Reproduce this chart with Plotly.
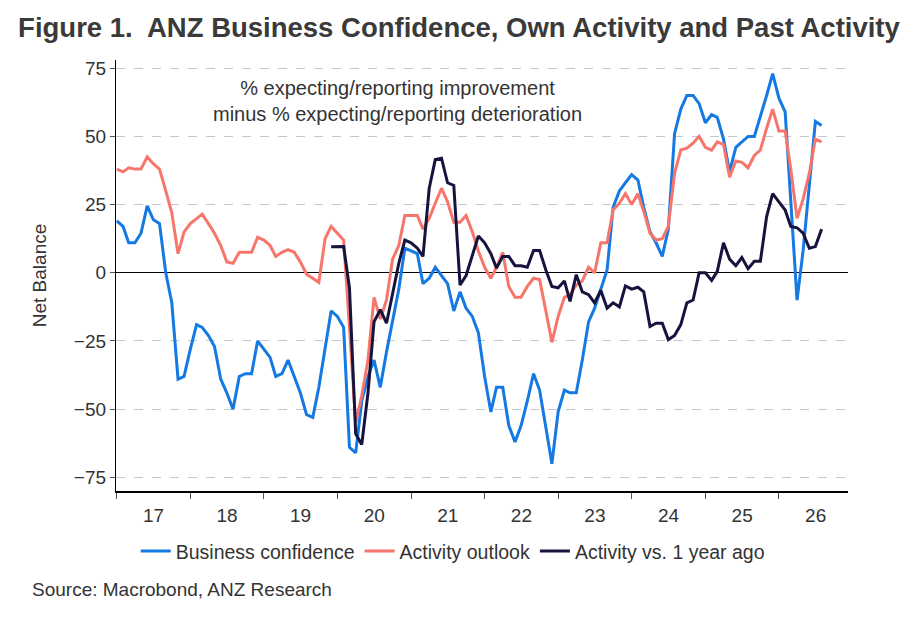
import plotly.graph_objects as go
import pandas as pd

dates = pd.date_range("2017-01-01", periods=116, freq="MS")

business_confidence = [19,17,11,11,14.5,24.5,19.5,18,0,-11,-39,-38,-28,-19,-20,-23,-27,-39,-44,-50,
 -38,-37,-37,-25,-28,-31,-38,-37,-32,-38,-44,-52,-53,-42,-27,-14,-16,-20,-64,-66,
 -47,-38,-32,-42,-29,-17,-6,9,8,7,-4,-2,2,-1,-4,-14,-7,-13,-16,-22,
 -38,-51,-42,-42,-56,-62,-56,-47,-37,-43,-56,-70,-51,-43,-44,-44,-32,-18,-13,-6,
 1,24,30,33,36,34,24,15,11,6,16,51,60,65,65,62,55,58,57,49,
 37,46,48,50,50,57,65,73,64,59,27,-10,8,33,55.5,54]

activity_outlook = [38,37,38.5,38,38,42.5,40,38,30,22,7,15,18,20,21.5,18,14.5,10,4,3.5,
 7.5,7.5,7.5,13,12,10,6,7.5,8.5,7.5,4,-0.5,-2,-3.5,12.5,17,14.5,12,-20,-55,
 -45,-32,-9,-17,-10,5,10,21,21,21,16,20,25.5,31,26,18.5,18.5,21,15,8,
 2,-2,2,7.5,-5,-9,-9,-5,-2,-2.5,-14,-25.5,-16,-9,-8,-4.5,-3,2,0,11,
 11,23,25.5,29,25,29,22.5,14.5,12,12.5,17,36.5,45,45.7,47.5,50,46,45,48,47,
 35,41,40.5,38.5,43,45,53,60,52,52,38,20,27,36.5,49,48]

activity_vs_year_ago = [None]*35 + [9.5,9.6,9.6,-5.5,-59,-63,-44,-18,-13.5,-18.5,-7,3.5,12,11,9,6,31,41.5,42,33,
 32,-4.5,-1,6.5,13.5,11,7,1.7,6,6,2.6,2.6,2,8.2,8.2,1,-5,-5.5,-3,-10.5,
 -0.7,-7,-8,-11,-6.5,-13,-11,-12.5,-4.8,-6,-5.3,-7,-19.7,-18.5,-18.5,-24.5,-23,-19,-11,-10,
 0,0,-2.8,0.5,11,5,2.6,5.6,1.5,4.2,4.2,20.6,29,26,23,17,16.5,14.5,9,9.6,16]

y_ticks = [75, 50, 25, 0, -25, -50, -75]

fig = go.Figure()
fig.add_trace(go.Scatter(x=dates, y=business_confidence, mode="lines", name="Business confidence",
                         line=dict(color="#1479E3", width=3)))
fig.add_trace(go.Scatter(x=dates, y=activity_outlook, mode="lines", name="Activity outlook",
                         line=dict(color="#F7766C", width=3)))
fig.add_trace(go.Scatter(x=dates, y=activity_vs_year_ago, mode="lines", name="Activity vs. 1 year ago",
                         line=dict(color="#16133F", width=3)))

fig.update_layout(
    width=920, height=630, paper_bgcolor="white", plot_bgcolor="white",
    margin=dict(l=108, r=80, t=52, b=147, autoexpand=False),
    font=dict(family="Liberation Sans, Arial", color="#333333", size=18),
    title=dict(text="<b>Figure 1.  ANZ Business Confidence, Own Activity and Past Activity</b>",
               x=0.011, xanchor="left", y=0.985, yanchor="top", font=dict(size=27.5, color="#3a3a3a")),
    legend=dict(orientation="h", x=0.46, xanchor="center", y=-0.095, yanchor="top",
                font=dict(size=19.5, color="#333333"), itemwidth=30, tracegroupgap=0),
    showlegend=True,
)
fig.update_xaxes(
    type="date", range=["2016-12-28", "2026-12-10"], dtick="M12", tick0="2017-01-01",
    ticklabelmode="period", tickformat="%y", ticks="outside", ticklen=6, tickcolor="#555",
    showline=True, linecolor="black", linewidth=1.5, showgrid=False,
    tickfont=dict(size=19, color="#333"), automargin=False,
)
fig.update_yaxes(
    range=[-80, 78], tickvals=y_ticks, ticks="outside", ticklen=5, tickcolor="#555",
    showline=True, linecolor="black", linewidth=1.2,
    showgrid=True, gridcolor="#c3c8cc", griddash="dash", gridwidth=1,
    zeroline=True, zerolinecolor="black", zerolinewidth=1.2,
    tickfont=dict(size=19, color="#333"), automargin=False,
    title=dict(text="Net Balance", font=dict(size=19, color="#333"), standoff=22),
)
fig.add_annotation(text="% expecting/reporting improvement<br>minus % expecting/reporting deterioration",
                   xref="paper", yref="paper", x=0.385, y=0.965, xanchor="center", yanchor="top",
                   showarrow=False, font=dict(size=20, color="#333"), align="center")
fig.add_annotation(text="Source: Macrobond, ANZ Research", xref="paper", yref="paper",
                   x=-0.118, y=-0.2, xanchor="left", yanchor="top", showarrow=False,
                   font=dict(size=19, color="#333"))
fig.write_html("out.html")
